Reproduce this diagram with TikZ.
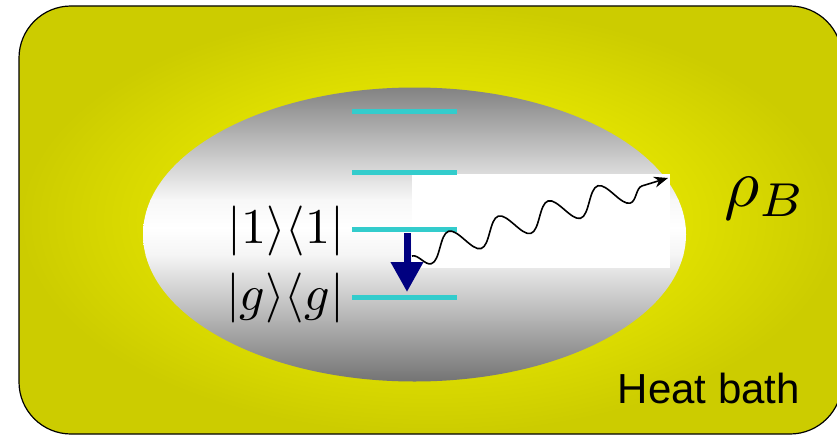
\documentclass[tikz,border=0pt]{standalone}
\usepackage{amsmath}
\usepackage{fontspec}
\newfontfamily\bathfont{Liberation Sans}
\usetikzlibrary{arrows.meta,decorations.pathmorphing}
\definecolor{bathlight}{HTML}{FFFF00}
\definecolor{bathdark}{HTML}{CCCC00}
\definecolor{level}{HTML}{33CCCC}
\definecolor{navy}{HTML}{000080}

\begin{document}
\begin{tikzpicture}[x=1pt,y=-1pt,
  lvl/.style={level,line width=5pt},
  photon/.style={decorate,decoration={snake,segment length=52pt,amplitude=13pt,post length=14pt,mirror},line width=1.6pt,-{Stealth[length=14pt,width=11pt]}},
  ket/.style={scale=5}]
\useasboundingbox (0,0) rectangle (837,436);
\shade[draw=black,line width=1.2pt,rounded corners=52pt,inner color=bathlight,outer color=bathdark] (19,6) rectangle (842,434);
% cavity
\begin{scope}
\clip (414.5,234.5) ellipse [x radius=271.5,y radius=147];
\shade[top color=black!50,bottom color=black!3] (140,85) rectangle (690,200);
\shade[top color=black!3,bottom color=white] (140,199) rectangle (690,228);
\shade[top color=white,bottom color=black!4] (140,227) rectangle (690,256);
\shade[top color=black!4,bottom color=black!56] (140,255) rectangle (690,385);
\end{scope}
\fill[white] (412,174) rectangle (670,268);
% energy levels
\foreach \y/\n in {111/3,172/2,229/1,297/0}{\draw[lvl] (352,\y)--(457,\y) coordinate (l\n);}
\coordinate (decay top) at (407,233);
\coordinate (decay end) at (407,292);
\draw[navy,line width=7pt,-{Triangle[length=30pt,width=31pt]}] (decay top)--(decay end);
\coordinate (photon start) at (412,256);
\coordinate (photon end) at (668,178);
\draw[photon] (photon start)--(photon end);
\node[ket] (ket1) at (286,231) {$|1\rangle\langle1|$};
\node[ket] (ketg) at (285,298) {$|g\rangle\langle g|$};
\node[scale=6.8] (rho) at (765,198) {$\rho_B$};
\node[scale=4.2,font=\bathfont] (bath) at (709,388) {Heat bath};
\end{tikzpicture}
\end{document}
